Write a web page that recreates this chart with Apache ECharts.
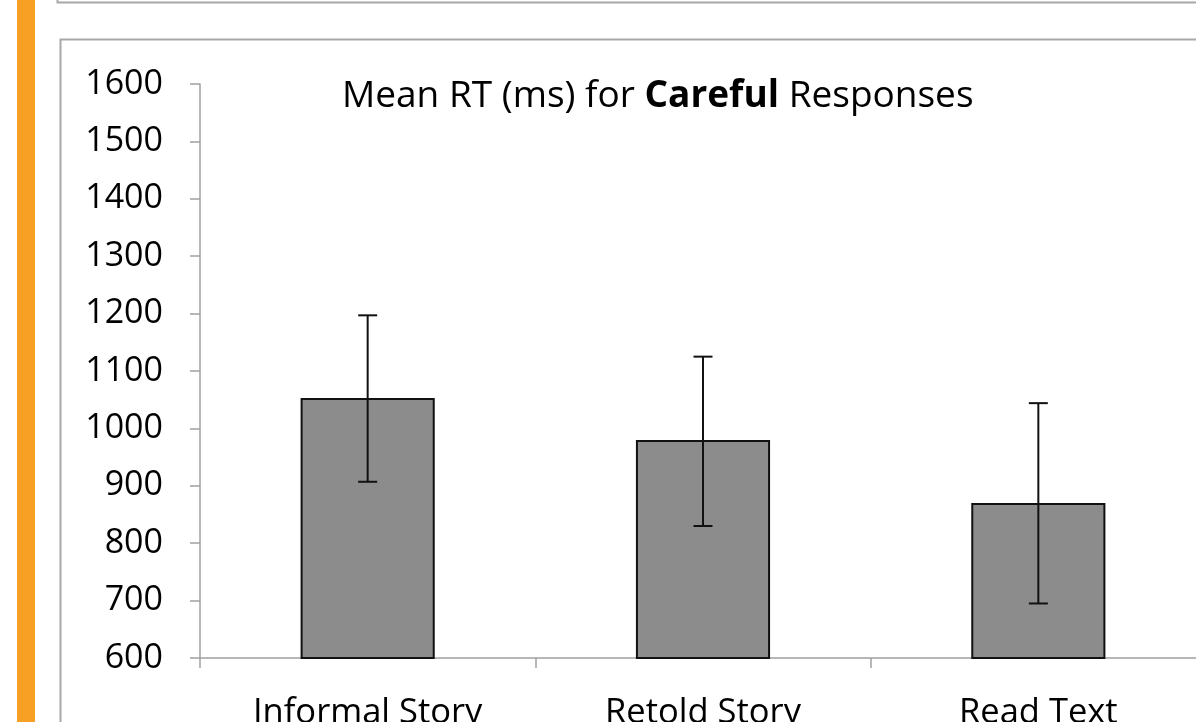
<!DOCTYPE html>
<html><head><meta charset="utf-8">
<script src="https://cdn.jsdelivr.net/npm/echarts@6/dist/echarts.min.js"></script>
<style>html,body{margin:0;padding:0;background:#fff;overflow:hidden;}#c{width:1220px;height:722px;}</style>
</head><body><div id="c"></div>
<script>
const categories = ['Informal Story', 'Retold Story', 'Read Text'];
const meanRT = [1053, 980, 870];
const errLow = [907, 830, 695];
const errHigh = [1197, 1125, 1044];
const yTicks = [600, 700, 800, 900, 1000, 1100, 1200, 1300, 1400, 1500, 1600];

const chart = echarts.init(document.getElementById('c'));
const FONT = 'Open Sans';
chart.setOption({
  backgroundColor: '#fff',
  animation: false,
  title: {
    left: 337, top: 73,
    text: '{n|Mean RT (ms) for }{b|Careful}{n| Responses}',
    textStyle: {
      fontWeight: 'normal',
      rich: {
        n: { fontFamily: FONT, fontSize: 37, color: '#000', fontWeight: 'normal' },
        b: { fontFamily: FONT, fontSize: 37, color: '#000', fontWeight: 'bold' }
      }
    }
  },
  graphic: [
    { type: 'rect', shape: { x: 17, y: 0, width: 18, height: 722 }, style: { fill: '#F8A024' }, silent: true },
    { type: 'polyline', shape: { points: [[57.5, -5], [57.5, 2.5], [1230, 2.5]] }, style: { stroke: '#a8a8a8', lineWidth: 2, fill: null }, silent: true },
    { type: 'polyline', shape: { points: [[60.5, 730], [60.5, 39.5], [1230, 39.5]] }, style: { stroke: '#a8a8a8', lineWidth: 2, fill: null }, silent: true }
  ],
  grid: { left: 200, top: 84, right: 14, bottom: 64, containLabel: false, outerBoundsMode: 'none' },
  xAxis: {
    type: 'category',
    data: categories,
    boundaryGap: true,
    axisLine: { show: true, lineStyle: { color: '#a0a0a0', width: 1.5 } },
    axisTick: { show: true, length: 10, lineStyle: { color: '#a0a0a0', width: 1.5 } },
    axisLabel: { fontFamily: FONT, fontSize: 34.5, color: '#000', margin: 38 }
  },
  yAxis: {
    type: 'value',
    min: 600, max: 1600, interval: 100,
    axisLine: { show: true, lineStyle: { color: '#a0a0a0', width: 1.5 } },
    axisTick: { show: true, length: 10, lineStyle: { color: '#a0a0a0', width: 1.5 } },
    splitLine: { show: false },
    axisLabel: {
      fontFamily: FONT, fontSize: 34, color: '#000', margin: 37,
      formatter: v => yTicks.includes(v) ? String(v) : ''
    }
  },
  series: [
    {
      type: 'bar',
      data: meanRT,
      barWidth: '40%',
      itemStyle: { color: '#8c8c8c', borderColor: '#111', borderWidth: 2 }
    },
    {
      type: 'custom',
      data: categories.map((c, i) => [i, errLow[i], errHigh[i]]),
      renderItem: function (params, api) {
        const x = api.value(0);
        const lo = api.coord([x, api.value(1)]);
        const hi = api.coord([x, api.value(2)]);
        const hw = 9.5;
        const st = { stroke: '#111', lineWidth: 2 };
        return {
          type: 'group',
          children: [
            { type: 'line', shape: { x1: lo[0], y1: lo[1], x2: hi[0], y2: hi[1] }, style: st },
            { type: 'line', shape: { x1: lo[0] - hw, y1: lo[1], x2: lo[0] + hw, y2: lo[1] }, style: st },
            { type: 'line', shape: { x1: hi[0] - hw, y1: hi[1], x2: hi[0] + hw, y2: hi[1] }, style: st }
          ]
        };
      },
      z: 10
    }
  ]
});
</script></body></html>
